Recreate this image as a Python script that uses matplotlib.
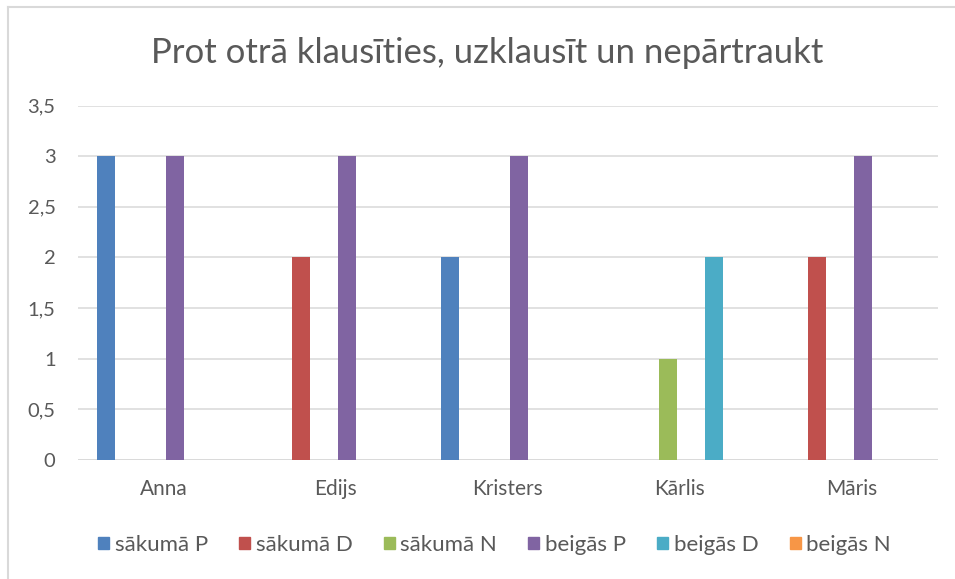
import numpy as np
import matplotlib

matplotlib.use("Agg")
import matplotlib.pyplot as plt
from matplotlib.lines import Line2D
from matplotlib.patches import Patch

plt.rcParams["font.family"] = ["Lato", "DejaVu Sans"]

title = "Prot otrā klausīties, uzklausīt un nepārtraukt"
names = ["Anna", "Edijs", "Kristers", "Kārlis", "Māris"]
series = ["sākumā P", "sākumā D", "sākumā N", "beigās P", "beigās D", "beigās N"]
sakuma_p = [3, 0, 2, 0, 0]
sakuma_d = [0, 2, 0, 0, 2]
sakuma_n = [0, 0, 0, 1, 0]
beigas_p = [3, 3, 3, 0, 3]
beigas_d = [0, 0, 0, 2, 0]
beigas_n = [0, 0, 0, 0, 0]
yticks = [0, 0.5, 1, 1.5, 2, 2.5, 3, 3.5]
ytick_labels = ["0", "0,5", "1", "1,5", "2", "2,5", "3", "3,5"]

colors = ["#4F81BD", "#C0504D", "#9BBB59", "#8064A2", "#4BACC6", "#F79646"]
text_c = "#595959"
grid_c = "#D9D9D9"

W, H = 955, 579
fig = plt.figure(figsize=(W / 100, H / 100), dpi=100)
ax = fig.add_axes([77.8 / W, 1 - 460 / H, 860 / W, 354.5 / H])

values = [sakuma_p, sakuma_d, sakuma_n, beigas_p, beigas_d, beigas_n]
x = np.arange(len(names))
step = 23 / 172
width = 18 / 172
for i, (vals, c) in enumerate(zip(values, colors)):
    ax.bar(x + (i - 2.5) * step, vals, width, color=c, zorder=3)

ax.set_xlim(-0.5, len(names) - 0.5)
ax.set_ylim(0, 3.5)
ax.set_yticks(yticks)
ax.set_yticklabels(ytick_labels)
ax.set_xticks(x)
ax.set_xticklabels(names)
ax.tick_params(axis="y", length=0, pad=16, labelsize=14.5, labelcolor=text_c)
ax.tick_params(axis="x", length=0, pad=14, labelsize=15, labelcolor=text_c)
ax.grid(axis="y", color=grid_c, lw=1.1, zorder=0)
for s in ax.spines.values():
    s.set_visible(False)
ax.axhline(0, color=grid_c, lw=1.1, zorder=2)

fig.text(487.5 / W, 1 - 63 / H, title, ha="center", va="baseline", fontsize=25, color=text_c)

handles = [Patch(color=c) for c in colors]
fig.legend(handles, series, loc="center", bbox_to_anchor=(494.5 / W, 1 - 545 / H),
           ncol=6, frameon=False, fontsize=16, labelcolor=text_c,
           handlelength=0.5, handleheight=0.5, handletextpad=0.25,
           columnspacing=1.4)

# chart area border (left and top edges visible)
fig.add_artist(Line2D([7.5 / W, 7.5 / W], [0, 1 - 6.5 / H], color=grid_c, lw=1.5,
                      transform=fig.transFigure))
fig.add_artist(Line2D([7.5 / W, 1], [1 - 6.5 / H, 1 - 6.5 / H], color=grid_c, lw=1.5,
                      transform=fig.transFigure))

fig.savefig("out.png", dpi=100)
